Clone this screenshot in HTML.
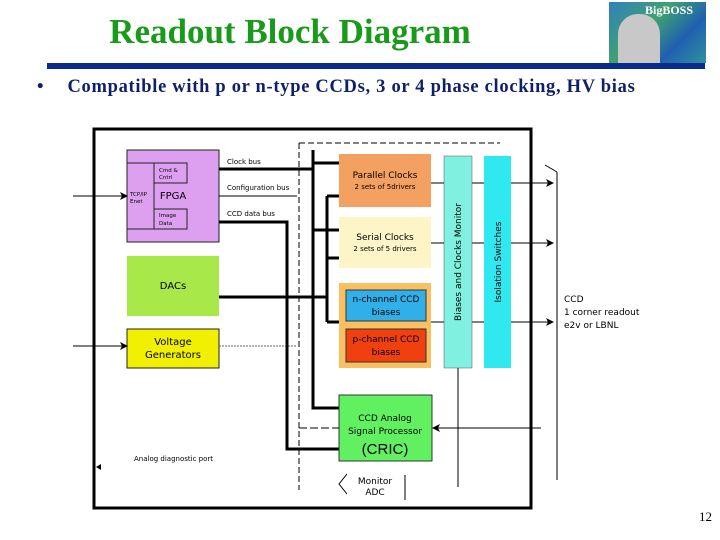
<!DOCTYPE html>
<html><head><meta charset="utf-8"><style>
body{margin:0;width:720px;height:540px;background:#fff;overflow:hidden;position:relative;font-family:"Liberation Serif",serif}
.t{position:absolute;left:0;top:12px;width:580px;text-align:center;color:#1a9a1a;font-weight:bold;font-size:35px}
.s{position:absolute;left:37px;top:77px;color:#0f1f6a;font-weight:bold;font-size:18.5px;white-space:nowrap}
</style></head><body>
<div class="t">Readout Block Diagram</div>
<div style="position:absolute;left:47px;top:63px;width:658px;height:6px;background:#0a2a8c"></div>
<div style="position:absolute;left:609px;top:2px;width:97px;height:61px;background:linear-gradient(135deg,#3080c0,#40a070 40%,#2060b0 70%,#3090a0)"></div>
<div style="position:absolute;left:618px;top:14px;width:42px;height:49px;background:#c8c8c8;border-radius:20px 20px 0 0"></div>
<div style="position:absolute;left:645px;top:3px;color:#fff;font-weight:bold;font-size:12px">BigBOSS</div>
<div class="s">•<span style="display:inline-block;width:24px"></span><span style="letter-spacing:0.7px">Compatible with p or n-type CCDs, 3 or 4 phase clocking, HV bias</span></div>
<svg width="720" height="540" style="position:absolute;left:0;top:0" font-family="DejaVu Sans, sans-serif">
<defs><marker id="a" markerWidth="8" markerHeight="8" refX="7" refY="4" orient="auto" markerUnits="userSpaceOnUse"><path d="M0,0 L8,4 L0,8 L2,4z" fill="#000"/></marker></defs>
<rect x="94" y="129" width="437" height="379" fill="none" stroke="#000" stroke-width="3"/>
<path d="M299 143 V490 M299 143 H500" stroke="#000" stroke-dasharray="6,3" stroke-width="1"/>
<rect x="127" y="150" width="92" height="92" fill="#dda0f0" stroke="#222"/>
<path d="M127 163 H154 V229 H127 M154 163 H187 V183 H154 M154 209 H187 V229 H154" fill="none" stroke="#222"/>
<text x="173" y="199" font-size="10" text-anchor="middle">FPGA</text>
<text x="159" y="172" font-size="5.5">Cmd &amp;</text><text x="159" y="179" font-size="5.5">Cntrl</text>
<text x="159" y="217" font-size="5.5">Image</text><text x="159" y="225" font-size="5.5">Data</text>
<text x="130" y="196" font-size="5.5">TCP/IP</text><text x="130" y="203" font-size="5.5">Enet</text>
<rect x="127" y="256" width="92" height="60" fill="#a8e848"/>
<text x="173" y="289" font-size="10" text-anchor="middle">DACs</text>
<rect x="127" y="329" width="92" height="39" fill="#f0f000" stroke="#222"/>
<text x="173" y="345" font-size="10" text-anchor="middle">Voltage</text>
<text x="173" y="358" font-size="10" text-anchor="middle">Generators</text>
<line x1="73" y1="196" x2="127" y2="196" stroke="#000" marker-end="url(#a)"/>
<line x1="73" y1="346" x2="127" y2="346" stroke="#000" marker-end="url(#a)"/>
<path d="M219 346 H297" stroke="#666" stroke-dasharray="2,1"/>
<text x="227" y="164" font-size="7">Clock bus</text>
<text x="227" y="190" font-size="7">Configuration bus</text>
<text x="227" y="216" font-size="7">CCD data bus</text>
<g stroke="#000" stroke-width="3" fill="none">
<path d="M219 169 H313 M313 150 V408 H339 M219 222 H287 V449 H339 M219 297 H327 M327 196 V322 M327 196 H339 M327 258 H339 M327 322 H339 M313 163 H339 M313 230 H339"/>
</g>
<path d="M219 196 H297" stroke="#000"/>
<rect x="339" y="154" width="92" height="53" fill="#f4a060"/>
<text x="385" y="178" font-size="9" text-anchor="middle">Parallel Clocks</text>
<text x="385" y="189" font-size="7" text-anchor="middle">2 sets of 5drivers</text>
<rect x="339" y="217" width="92" height="51" fill="#fdf4c8"/>
<text x="385" y="240" font-size="9" text-anchor="middle">Serial Clocks</text>
<text x="385" y="251" font-size="7" text-anchor="middle">2 sets of 5 drivers</text>
<rect x="339" y="283" width="92" height="85" fill="#f8c060"/>
<rect x="346" y="290" width="80" height="31" fill="#30b0e8" stroke="#333"/>
<text x="386" y="302" font-size="9" text-anchor="middle">n-channel CCD</text>
<text x="386" y="315" font-size="9" text-anchor="middle">biases</text>
<rect x="346" y="329" width="80" height="33" fill="#f04010" stroke="#333"/>
<text x="386" y="342" font-size="9" text-anchor="middle">p-channel CCD</text>
<text x="386" y="355" font-size="9" text-anchor="middle">biases</text>
<line x1="431" y1="183" x2="553" y2="183" stroke="#000" marker-end="url(#a)"/>
<line x1="431" y1="243" x2="553" y2="243" stroke="#000" marker-end="url(#a)"/>
<line x1="431" y1="322" x2="553" y2="322" stroke="#000" marker-end="url(#a)"/>
<rect x="444" y="156" width="28" height="212" fill="#80f0e0" stroke="#555" stroke-width="0.5"/>
<rect x="484" y="156" width="27" height="212" fill="#30e8f0"/>
<text transform="translate(461,262) rotate(-90)" font-size="9" text-anchor="middle">Biases and Clocks Monitor</text>
<text transform="translate(501,262) rotate(-90)" font-size="9" text-anchor="middle">Isolation Switches</text>
<path d="M557 172 V480 M545 165 L557 172" stroke="#000"/>
<text x="564" y="302" font-size="9">CCD</text>
<text x="564" y="315" font-size="9">1 corner readout</text>
<text x="564" y="328" font-size="9">e2v or LBNL</text>
<rect x="339" y="395" width="93" height="66" fill="#60f060" stroke="#333"/>
<text x="385" y="421" font-size="9" text-anchor="middle">CCD Analog</text>
<text x="385" y="434" font-size="9" text-anchor="middle">Signal Processor</text>
<text x="385" y="454" font-size="15" text-anchor="middle" font-family="Liberation Sans, sans-serif">(CRIC)</text>
<path d="M299 428 H339" stroke="#000" stroke-dasharray="8,3"/>
<line x1="541" y1="428" x2="433" y2="428" stroke="#000" marker-end="url(#a)"/>
<path d="M458 368 V487 M405 475 V500 M347 474 L339 484 L347 494" stroke="#000" fill="none"/>
<text x="375" y="484" font-size="9" text-anchor="middle">Monitor</text>
<text x="375" y="495" font-size="9" text-anchor="middle">ADC</text>
<text x="134" y="461" font-size="7">Analog diagnostic port</text>
<path d="M101 464 L96 467 L101 470z" fill="#000"/>
<text x="712" y="521" font-size="13" text-anchor="end" font-family="Liberation Serif, serif">12</text>
</svg>
</body></html>
